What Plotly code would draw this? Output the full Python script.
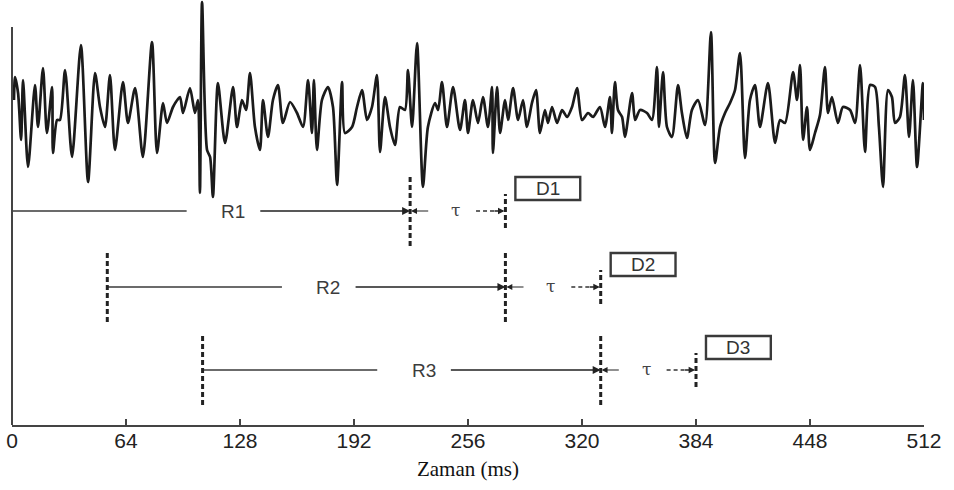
import plotly.graph_objects as go

# ---- data ----
time_ms = [
    1.1, 1.7, 3.4, 5.1, 6.2, 9.0, 12.9, 14.6, 17.4, 19.6,
    22.5, 23.0, 25.3, 26.9, 29.8, 33.7, 38.7, 42.7, 46.6, 49.4,
    52.2, 55.0, 57.8, 62.3, 65.1, 69.1, 73.5, 78.6, 81.4, 84.8,
    87.0, 90.4, 94.3, 96.0, 99.9, 102.7, 104.4, 105.5, 106.7, 109.5,
    111.2, 112.8, 115.6, 119.6, 124.1, 126.3, 129.1, 131.4, 133.6, 136.4,
    139.2, 140.9, 143.7, 146.5, 149.3, 152.1, 156.1, 160.0, 163.4, 166.2,
    168.4, 169.5, 171.2, 174.0, 177.4, 180.2, 182.5, 185.3, 186.9, 190.9,
    193.7, 196.5, 199.3, 202.1, 204.9, 206.6, 209.4, 212.2, 215.0, 217.8,
    220.6, 222.3, 224.6, 227.4, 230.7, 233.5, 237.5, 239.2, 241.4, 244.2,
    247.6, 251.5, 254.3, 256.0, 258.8, 261.6, 264.4, 267.2, 269.5, 270.0,
    272.3, 274.0, 276.8, 278.5, 281.3, 284.1, 286.9, 289.1, 291.9, 294.2,
    296.4, 299.2, 300.9, 303.2, 306.0, 308.8, 311.6, 314.4, 317.2, 320.0,
    323.4, 326.2, 330.1, 332.9, 335.7, 336.8, 338.5, 340.2, 342.5, 344.1,
    348.1, 349.8, 352.6, 356.5, 359.3, 362.1, 363.2, 365.5, 367.7, 370.5,
    373.9, 376.1, 378.9, 381.7, 385.1, 389.1, 392.4, 394.7, 397.5, 400.3,
    403.1, 405.9, 408.7, 411.5, 414.3, 417.1, 419.9, 424.4, 428.4, 431.2,
    434.0, 438.5, 440.7, 442.4, 444.1, 446.3, 448.0, 450.8, 453.6, 456.4,
    458.1, 460.3, 463.7, 466.5, 470.5, 473.3, 476.1, 478.9, 481.7, 484.5,
    486.7, 489.0, 491.8, 494.0, 495.7, 498.5, 501.3, 503.6, 505.8, 508.1,
    511.4, 512.0,
]
amplitude = [
    15, 38, 22, -25, 35, -52, 30, -12, 47, -18,
    28, -38, -5, -5, 45, -42, 70, -67, 42, 8,
    -12, 40, -35, 33, -8, 27, -42, 73, -38, 12,
    -8, 8, 18, 2, 27, 2, 15, -78, 113, -35,
    -42, -82, 32, -28, 28, -12, 15, 5, 42, -12,
    -35, 15, -22, 15, 30, -8, 13, 2, -12, 35,
    -18, 35, -35, 15, 28, 8, -70, 33, -18, -12,
    8, 25, -5, 8, 40, -37, 18, -12, -30, 8,
    5, 45, -12, 72, -72, -12, 12, 5, 33, -12,
    28, -15, 15, -18, 15, -8, 18, -12, 28, -38,
    28, -18, 15, -5, 27, -5, 15, -12, 12, 25,
    -18, 5, -8, 8, -8, 5, -2, 8, 27, -5,
    2, -2, 8, -12, 18, -18, 33, 5, -2, -22,
    22, -5, 5, 2, -5, 48, -12, 43, -12, -22,
    30, 2, -23, 5, 15, -10, 83, -48, -12, 2,
    12, 25, 62, -43, 15, 30, -12, 32, -28, -5,
    -8, 43, 15, 50, -25, 8, -35, -18, 0, 48,
    2, 18, -8, 8, 5, -8, 50, -37, 30, 28,
    -12, -72, 25, 18, -8, -2, 40, -22, 35, -52,
    32, -5,
]

window_start = [0.0, 53.5, 107.0]   # ms, start of each reference window
window_len = 223.5                  # ms, length R
tau = 53.5                          # ms, lead time
r_labels = ["R1", "R2", "R3"]
d_labels = ["D1", "D2", "D3"]
row_level = [-96, -172, -255]       # vertical level of each scheme row
x_ticks = [0, 64, 128, 192, 256, 320, 384, 448, 512]

INK = "#3a3a3a"
fig = go.Figure()
fig.add_trace(go.Scatter(
    x=time_ms, y=amplitude, mode="lines",
    line=dict(color="#1b1b1b", width=2.7, shape="spline", smoothing=0.7),
    hoverinfo="skip", showlegend=False))

shapes = []
annotations = []


def hline(x0, x1, y, width=1.6, dash=None, color=INK):
    d = dict(type="line", xref="x", yref="y", x0=x0, x1=x1, y0=y, y1=y,
             line=dict(color=color, width=width))
    if dash:
        d["line"]["dash"] = dash
    shapes.append(d)


def vdash(x, y, half):
    shapes.append(dict(type="line", xref="x", yref="y", x0=x, x1=x,
                       y0=y - half, y1=y + half,
                       line=dict(color="#222", width=3, dash="5px,3px")))


def arrow(x_from, x_to, y, width=1.6):
    annotations.append(dict(x=x_to, y=y, ax=x_from, ay=y, xref="x", yref="y",
                            axref="x", ayref="y", text="", showarrow=True,
                            arrowhead=2, arrowsize=1.0, arrowwidth=width,
                            arrowcolor="#222", standoff=0, startstandoff=0))


for i in range(len(window_start)):
    s = window_start[i]
    e = s + window_len
    d = e + tau
    y = row_level[i]
    lab = s + 0.555 * window_len
    # R segment: plain line, label, then arrow to end of window
    hline(s, lab - 26, y)
    arrow(lab + 14.5, e, y)
    annotations.append(dict(x=lab, y=y, xref="x", yref="y", text=r_labels[i],
                            showarrow=False,
                            font=dict(family="Liberation Sans, Arial", size=19,
                                      color="#3c3c3c")))
    # dashed window boundaries
    if s > 0:
        vdash(s, y, 35)
    vdash(e, y, 35)
    # tau double arrow
    arrow(e + 11, e + 0.5, y, width=1.2)
    annotations.append(dict(x=e + 25.5, y=y + 1, xref="x", yref="y", text="τ",
                            showarrow=False,
                            font=dict(family="DejaVu Serif, serif", size=17,
                                      color="#444")))
    hline(e + 37, d - 5, y, width=1.3, dash="4px,3px", color="#333")
    arrow(d - 7, d - 0.5, y, width=1.3)
    vdash(d, y, 17)
    # D box
    shapes.append(dict(type="rect", xref="x", yref="y",
                       x0=d + 5.6, x1=d + 42, y0=y + 11, y1=y + 34,
                       line=dict(color="#3a3a3a", width=2.4), fillcolor="white"))
    annotations.append(dict(x=d + 23.8, y=y + 22.5, xref="x", yref="y",
                            text=d_labels[i], showarrow=False,
                            font=dict(family="Liberation Sans, Arial", size=19,
                                      color="#333")))

# left axis line (starts a little below the top)
shapes.append(dict(type="line", xref="paper", yref="y", x0=0, x1=0,
                   y0=88, y1=-310, line=dict(color="#444", width=2)))

fig.update_layout(
    width=954, height=490,
    margin=dict(l=12, r=30, t=0, b=65),
    paper_bgcolor="white", plot_bgcolor="white",
    shapes=shapes, annotations=annotations,
    xaxis=dict(range=[0, 512], tickvals=x_ticks, ticktext=[str(v) for v in x_ticks],
               ticks="inside", ticklen=6, tickwidth=2, tickcolor="#444",
               showline=True, linewidth=2, linecolor="#444",
               showgrid=False, zeroline=False, ticklabelstandoff=-4,
               tickfont=dict(family="Liberation Sans, Arial", size=21, color="#222"),
               title=dict(text="Zaman (ms)", standoff=10,
                          font=dict(family="Liberation Serif, Times New Roman",
                                    size=21, color="#111"))),
    yaxis=dict(range=[-310, 115], visible=False, showgrid=False, zeroline=False),
)

fig.write_html("out.html")
